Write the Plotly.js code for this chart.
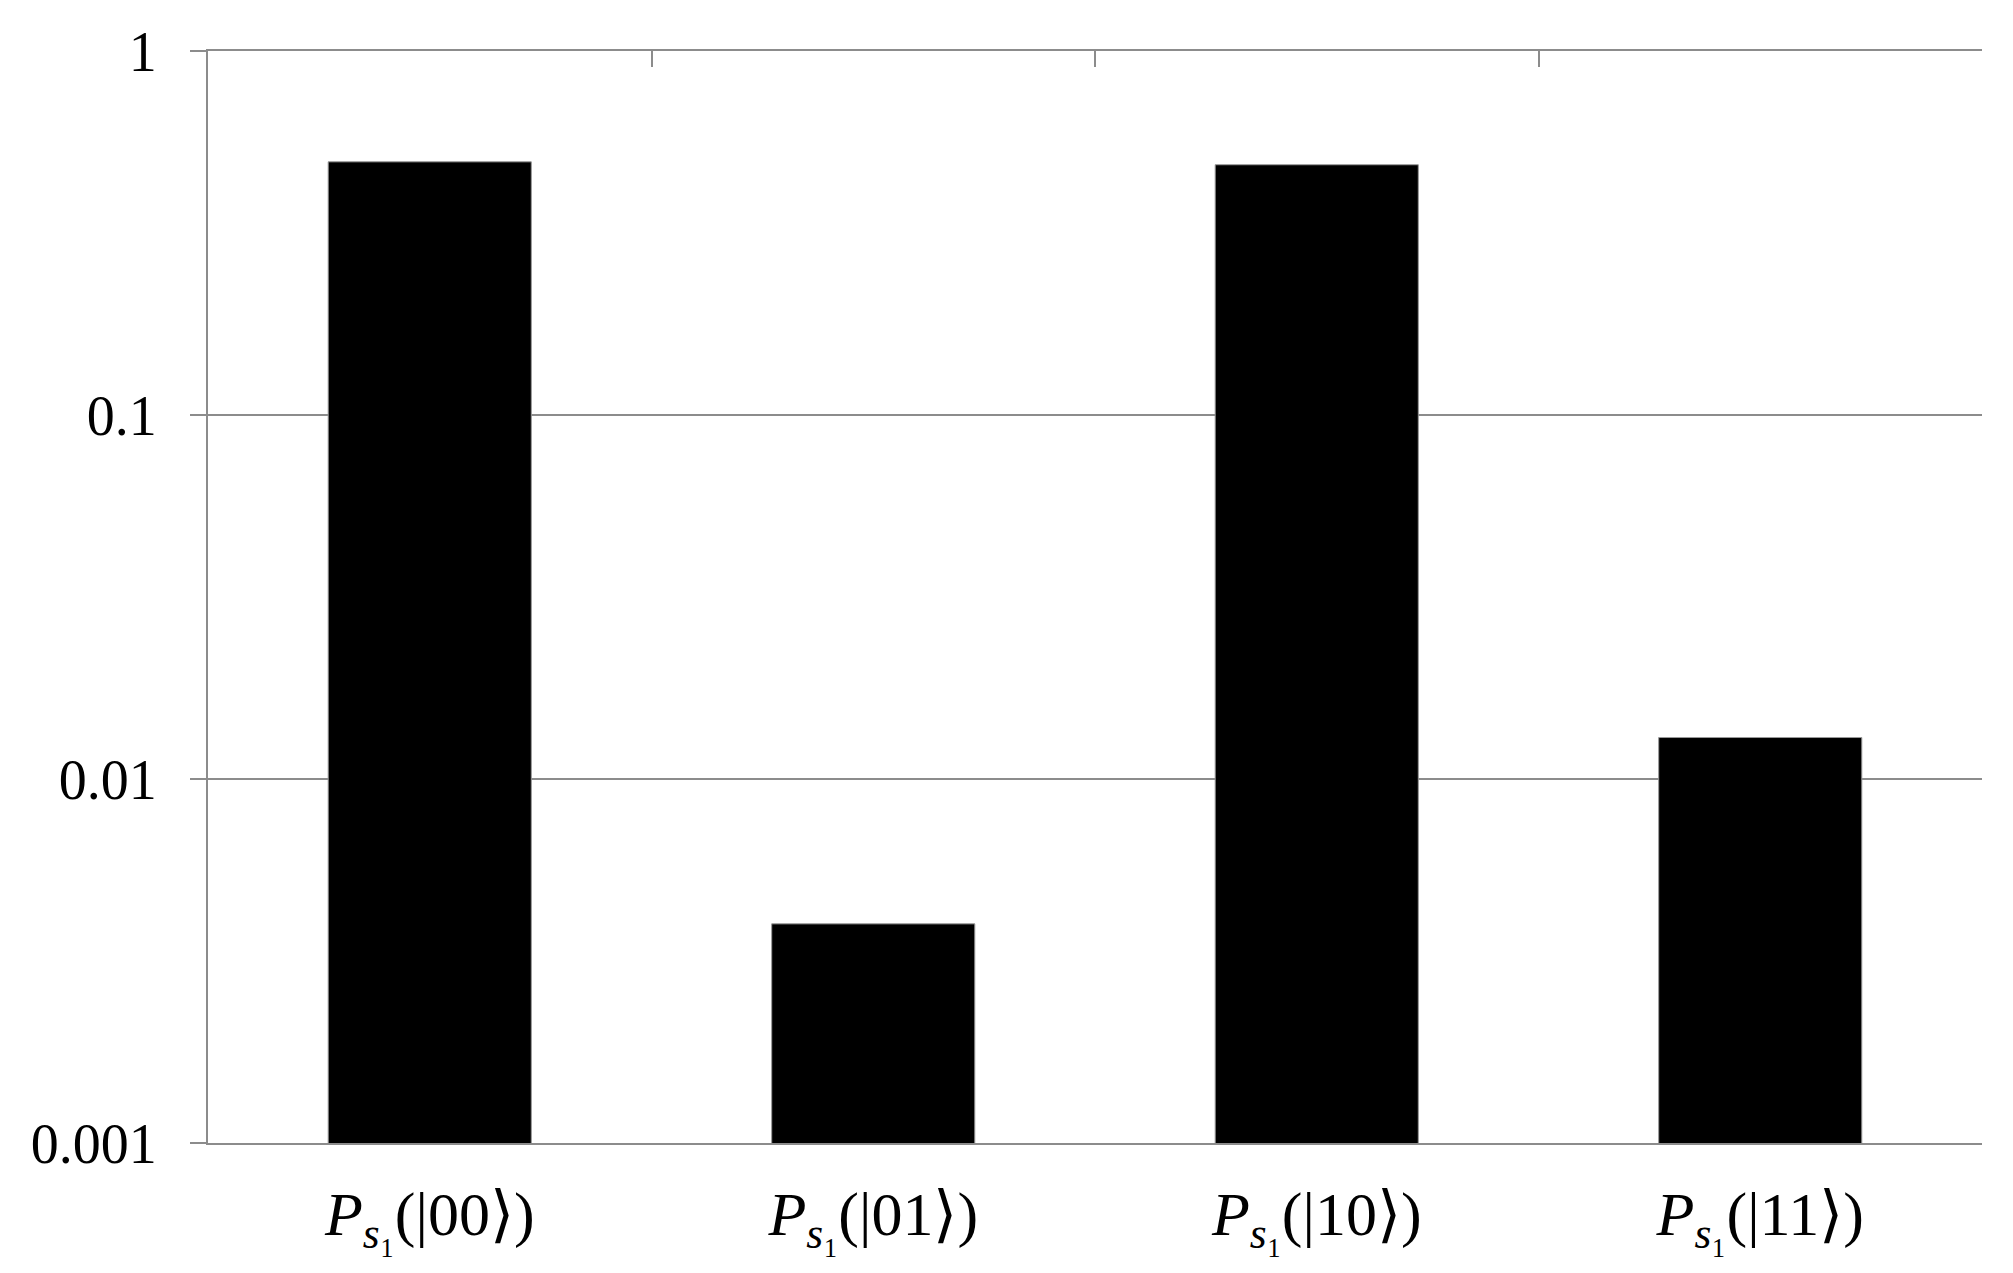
<!DOCTYPE html>
<html>
<head>
<meta charset="utf-8">
<script src="https://cdn.plot.ly/plotly-3.0.1.min.js"></script>
<style>
  body { margin: 0; background: #fff; }
  #chart { width: 2013px; height: 1273px; }
</style>
</head>
<body>
<div id="chart"></div>
<script>
// category labels on the x axis
const stateLabels = [
  '<i>P</i><sub><i>s</i>\u2081</sub>(|00\u27E9)',
  '<i>P</i><sub><i>s</i>\u2081</sub>(|01\u27E9)',
  '<i>P</i><sub><i>s</i>\u2081</sub>(|10\u27E9)',
  '<i>P</i><sub><i>s</i>\u2081</sub>(|11\u27E9)'
];
// probability of each state
const probValues = [0.496, 0.004, 0.487, 0.013];
// log axis ticks
const yTickVals = [0.001, 0.01, 0.1, 1];
const yTickText = ['0.001', '0.01', '0.1', '1'];

const axisGray = '#8c8c8c';
const serif = 'Liberation Serif';

const bars = {
  x: stateLabels,
  y: probValues,
  type: 'bar',
  marker: { color: '#000', line: { color: '#999', width: 1 } },
  hoverinfo: 'none'
};

// invisible copy so the top axis gets the same categories
const topAxisBars = {
  x: stateLabels,
  y: probValues,
  type: 'bar',
  xaxis: 'x2',
  opacity: 0,
  hoverinfo: 'skip',
  showlegend: false
};

const layout = {
  width: 2013,
  height: 1273,
  margin: { l: 208, r: 31, t: 51, b: 130 },
  paper_bgcolor: '#fff',
  plot_bgcolor: '#fff',
  showlegend: false,
  bargap: 0.542,
  font: { family: serif, color: '#000', size: 56 },
  xaxis: {
    type: 'category',
    showline: true,
    linecolor: axisGray,
    linewidth: 2,
    ticks: '',
    showgrid: false,
    tickfont: { size: 62, family: serif, color: '#000' },
    ticklabelstandoff: 16
  },
  xaxis2: {
    type: 'category',
    overlaying: 'x',
    side: 'top',
    showline: true,
    linecolor: axisGray,
    linewidth: 2,
    ticks: 'inside',
    tickson: 'boundaries',
    ticklen: 16,
    tickwidth: 2,
    tickcolor: axisGray,
    showticklabels: false,
    showgrid: false
  },
  yaxis: {
    type: 'log',
    range: [-3, 0],
    tickvals: yTickVals,
    ticktext: yTickText,
    showline: true,
    linecolor: axisGray,
    linewidth: 2,
    ticks: 'outside',
    ticklen: 16,
    tickwidth: 2,
    tickcolor: axisGray,
    showgrid: true,
    gridcolor: axisGray,
    gridwidth: 2,
    zeroline: false,
    tickfont: { size: 56, family: serif, color: '#000' },
    ticklabelstandoff: 22
  }
};

Plotly.newPlot('chart', [bars, topAxisBars], layout, { displayModeBar: false, staticPlot: true });
</script>
</body>
</html>
